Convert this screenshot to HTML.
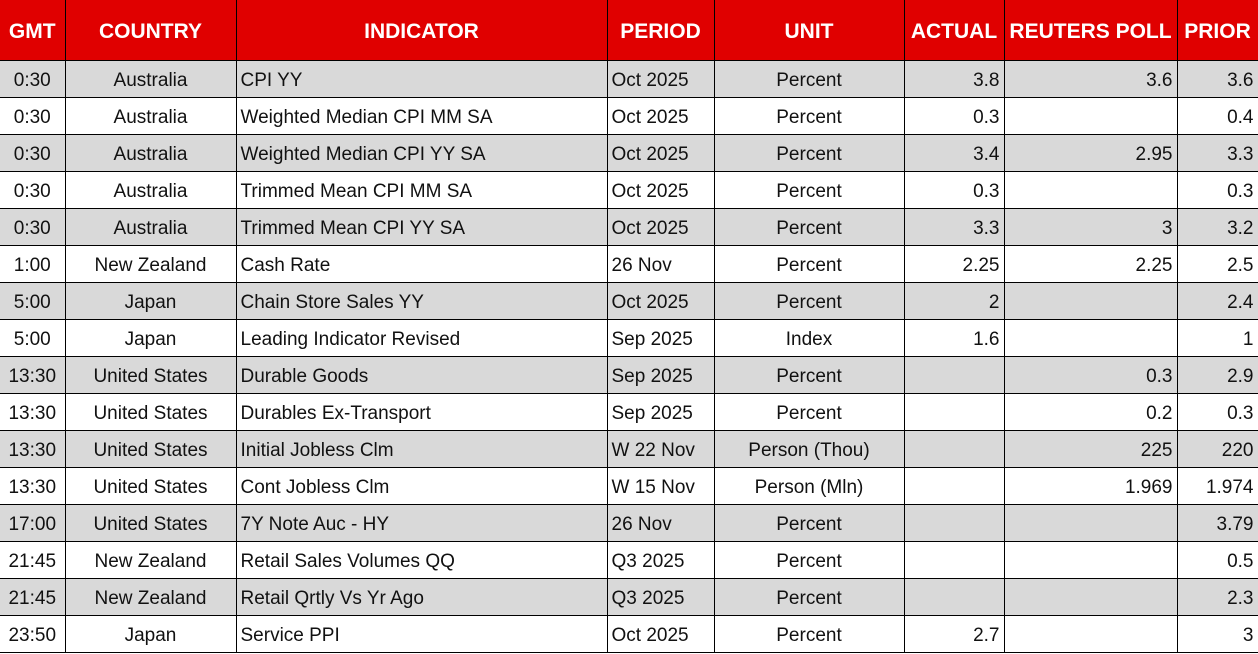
<!DOCTYPE html>
<html><head><meta charset="utf-8"><style>
body{margin:0;background:#fff;width:1258px;height:654px;overflow:hidden}
table{border-collapse:collapse;table-layout:fixed;position:absolute;left:0;top:0;width:1258px;font-family:"Liberation Sans",Arial,sans-serif;font-size:19px;color:#111}
td,th{border:1px solid #000;padding:3px 4px 0 4px;white-space:nowrap;overflow:hidden;height:33px;line-height:33px}
th{background:#e00000;color:#fff;font-weight:bold;height:57px;line-height:57px;font-size:21px;text-align:center;border-top:none}
tr.g td{background:#d9d9d9}
td.c{text-align:center}td.l{text-align:left}td.r{text-align:right}
tr td:first-child,tr th:first-child{border-left:none}
</style></head><body>
<table>
<colgroup><col style="width:65px"><col style="width:171px"><col style="width:371px"><col style="width:107px"><col style="width:190px"><col style="width:100px"><col style="width:173px"><col style="width:81px"></colgroup>
<tr><th>GMT</th><th>COUNTRY</th><th>INDICATOR</th><th>PERIOD</th><th>UNIT</th><th>ACTUAL</th><th>REUTERS POLL</th><th>PRIOR</th></tr>
<tr class="g"><td class="c">0:30</td><td class="c">Australia</td><td class="l">CPI YY</td><td class="l">Oct 2025</td><td class="c">Percent</td><td class="r">3.8</td><td class="r">3.6</td><td class="r">3.6</td></tr>
<tr><td class="c">0:30</td><td class="c">Australia</td><td class="l">Weighted Median CPI MM SA</td><td class="l">Oct 2025</td><td class="c">Percent</td><td class="r">0.3</td><td class="r"></td><td class="r">0.4</td></tr>
<tr class="g"><td class="c">0:30</td><td class="c">Australia</td><td class="l">Weighted Median CPI YY SA</td><td class="l">Oct 2025</td><td class="c">Percent</td><td class="r">3.4</td><td class="r">2.95</td><td class="r">3.3</td></tr>
<tr><td class="c">0:30</td><td class="c">Australia</td><td class="l">Trimmed Mean CPI MM SA</td><td class="l">Oct 2025</td><td class="c">Percent</td><td class="r">0.3</td><td class="r"></td><td class="r">0.3</td></tr>
<tr class="g"><td class="c">0:30</td><td class="c">Australia</td><td class="l">Trimmed Mean CPI YY SA</td><td class="l">Oct 2025</td><td class="c">Percent</td><td class="r">3.3</td><td class="r">3</td><td class="r">3.2</td></tr>
<tr><td class="c">1:00</td><td class="c">New Zealand</td><td class="l">Cash Rate</td><td class="l">26 Nov</td><td class="c">Percent</td><td class="r">2.25</td><td class="r">2.25</td><td class="r">2.5</td></tr>
<tr class="g"><td class="c">5:00</td><td class="c">Japan</td><td class="l">Chain Store Sales YY</td><td class="l">Oct 2025</td><td class="c">Percent</td><td class="r">2</td><td class="r"></td><td class="r">2.4</td></tr>
<tr><td class="c">5:00</td><td class="c">Japan</td><td class="l">Leading Indicator Revised</td><td class="l">Sep 2025</td><td class="c">Index</td><td class="r">1.6</td><td class="r"></td><td class="r">1</td></tr>
<tr class="g"><td class="c">13:30</td><td class="c">United States</td><td class="l">Durable Goods</td><td class="l">Sep 2025</td><td class="c">Percent</td><td class="r"></td><td class="r">0.3</td><td class="r">2.9</td></tr>
<tr><td class="c">13:30</td><td class="c">United States</td><td class="l">Durables Ex-Transport</td><td class="l">Sep 2025</td><td class="c">Percent</td><td class="r"></td><td class="r">0.2</td><td class="r">0.3</td></tr>
<tr class="g"><td class="c">13:30</td><td class="c">United States</td><td class="l">Initial Jobless Clm</td><td class="l">W 22 Nov</td><td class="c">Person (Thou)</td><td class="r"></td><td class="r">225</td><td class="r">220</td></tr>
<tr><td class="c">13:30</td><td class="c">United States</td><td class="l">Cont Jobless Clm</td><td class="l">W 15 Nov</td><td class="c">Person (Mln)</td><td class="r"></td><td class="r">1.969</td><td class="r">1.974</td></tr>
<tr class="g"><td class="c">17:00</td><td class="c">United States</td><td class="l">7Y Note Auc - HY</td><td class="l">26 Nov</td><td class="c">Percent</td><td class="r"></td><td class="r"></td><td class="r">3.79</td></tr>
<tr><td class="c">21:45</td><td class="c">New Zealand</td><td class="l">Retail Sales Volumes QQ</td><td class="l">Q3 2025</td><td class="c">Percent</td><td class="r"></td><td class="r"></td><td class="r">0.5</td></tr>
<tr class="g"><td class="c">21:45</td><td class="c">New Zealand</td><td class="l">Retail Qrtly Vs Yr Ago</td><td class="l">Q3 2025</td><td class="c">Percent</td><td class="r"></td><td class="r"></td><td class="r">2.3</td></tr>
<tr><td class="c">23:50</td><td class="c">Japan</td><td class="l">Service PPI</td><td class="l">Oct 2025</td><td class="c">Percent</td><td class="r">2.7</td><td class="r"></td><td class="r">3</td></tr>
</table>
</body></html>
